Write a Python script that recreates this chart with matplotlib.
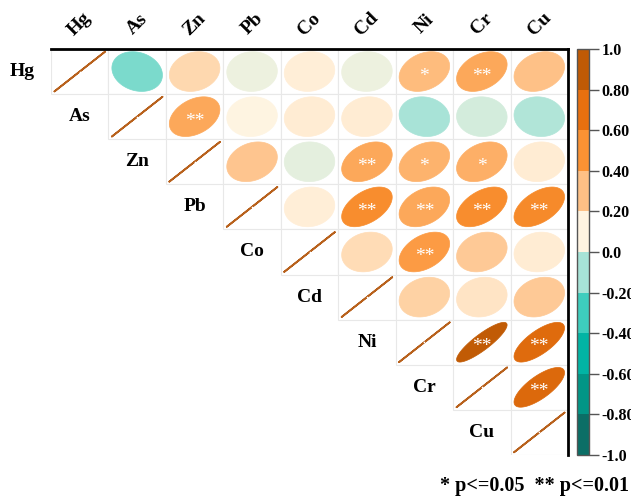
import numpy as np
import matplotlib
matplotlib.use("Agg")
from matplotlib import pyplot as plt
from matplotlib.colors import LinearSegmentedColormap, ListedColormap, BoundaryNorm
from matplotlib.patches import Polygon, Rectangle
from matplotlib.colorbar import ColorbarBase

elements = ["Hg", "As", "Zn", "Pb", "Co", "Cd", "Ni", "Cr", "Cu"]

# upper triangle of the correlation matrix, row by row (diagonal excluded)
r_upper = [
    [-0.18, 0.17, 0.03, 0.08, 0.03, 0.28, 0.36, 0.25],
    [0.36, 0.06, 0.09, 0.09, -0.10, -0.02, -0.08],
    [0.24, 0.01, 0.36, 0.32, 0.33, 0.09],
    [0.08, 0.49, 0.36, 0.49, 0.51],
    [0.15, 0.42, 0.22, 0.09],
    [0.19, 0.12, 0.22],
    [0.87, 0.72],
    [0.74],
]
sig_upper = [
    ["", "", "", "", "", "*", "**", ""],
    ["**", "", "", "", "", "", ""],
    ["", "", "**", "*", "*", ""],
    ["", "**", "**", "**", "**"],
    ["", "**", "", ""],
    ["", "", ""],
    ["**", "**"],
    ["**"],
]

bar_colors = ["#0B6E66", "#029586", "#02B4A4", "#3ECDBD", "#A7E3D7",
              "#FFF4E1", "#FEC085", "#FB9233", "#E8700F", "#C05A05"]
bar_ticks = [-1.0, -0.8, -0.6, -0.4, -0.2, 0.0, 0.2, 0.4, 0.6, 0.8, 1.0]
bar_labels = ["-1.0", "-0.80", "-0.60", "-0.40", "-0.20", "0.0",
              "0.20", "0.40", "0.60", "0.80", "1.0"]
# where each block colour sits on the smooth fill ramp (r values)
ramp_r = [-0.9, -0.7, -0.5, -0.3, -0.1, 0.06, 0.26, 0.46, 0.68, 0.88]

n = len(elements)
corr = np.eye(n)
sig = [["" for _ in range(n)] for _ in range(n)]
for i in range(n):
    for k, j in enumerate(range(i + 1, n)):
        corr[i, j] = r_upper[i][k]
        sig[i][j] = sig_upper[i][k]

anchors = [(0.0, bar_colors[0])]
anchors += [((r + 1) / 2, c) for r, c in zip(ramp_r, bar_colors)]
anchors.append((1.0, bar_colors[-1]))
cmap_fill = LinearSegmentedColormap.from_list("tealorange", anchors)


def ellipse_pts(rho, scale=0.44, m=100):
    k = np.linspace(0, 2 * np.pi, m)
    d = np.arccos(np.clip(rho, -1, 1))
    x = scale * np.cos(k + d / 2)
    y = scale * np.cos(k - d / 2)
    return x, y


plt.rcParams["font.family"] = ["Liberation Serif", "DejaVu Serif"]

fig = plt.figure(figsize=(6.31, 4.98), dpi=100)
ax = fig.add_axes([51 / 631, 43 / 498, 517 / 631, 406 / 498])
ax.set_xlim(0, n)
ax.set_ylim(n, 0)
ax.axis("off")

for i in range(n):
    for j in range(i, n):
        ax.add_patch(Rectangle((j, i), 1, 1, facecolor="white",
                               edgecolor="#E8E8E8", lw=0.8, zorder=1))
        cx, cy = j + 0.5, i + 0.5
        r = corr[i, j]
        col = cmap_fill((r + 1) / 2)
        ex, ey = ellipse_pts(r)
        if i == j:
            ax.plot(cx + ex, cy - ey, color="#B8611C", lw=1.3, zorder=2,
                    solid_capstyle="round")
            ax.plot(cx, cy, marker="o", ms=1.2, color="white", mec="none", zorder=3)
        else:
            ax.add_patch(Polygon(np.column_stack([cx + ex, cy - ey]),
                                 closed=True, facecolor=col, edgecolor=col,
                                 lw=0.5, zorder=2))
            if sig[i][j]:
                ax.text(cx, cy + 0.1, sig[i][j], color="white", fontsize=14,
                        ha="center", va="center", zorder=4)

# frame on top and right
ax.plot([0, n], [0, 0], color="black", lw=2, clip_on=False, zorder=5)
ax.plot([n, n], [0, n], color="black", lw=2, clip_on=False, zorder=5)

for j, name in enumerate(elements):
    ax.text(j + 0.5, -0.55, name, rotation=45, ha="center", va="center",
            fontsize=14, fontweight="bold", clip_on=False)
for i, name in enumerate(elements):
    ax.text(i - 0.5, i + 0.5, name, ha="center", va="center",
            fontsize=14, fontweight="bold", clip_on=False)

cax = fig.add_axes([577 / 631, 43 / 498, 12 / 631, 406 / 498])
cb = ColorbarBase(cax, cmap=ListedColormap(bar_colors),
                  norm=BoundaryNorm(bar_ticks, len(bar_colors)),
                  ticks=bar_ticks, orientation="vertical")
cb.set_ticklabels(bar_labels)
cb.outline.set_edgecolor("#555555")
cb.outline.set_linewidth(1.0)
cax.tick_params(length=7, width=1.0, color="#555555", pad=2)
for t in cax.get_yticklabels():
    t.set_fontweight("bold")
    t.set_fontsize(11.5)

fig.text(440 / 631, 12 / 498, "* p<=0.05  ** p<=0.01", ha="left", va="center",
         fontsize=14.5, fontweight="bold")

fig.savefig("out.png", dpi=100)
plt.close(fig)
